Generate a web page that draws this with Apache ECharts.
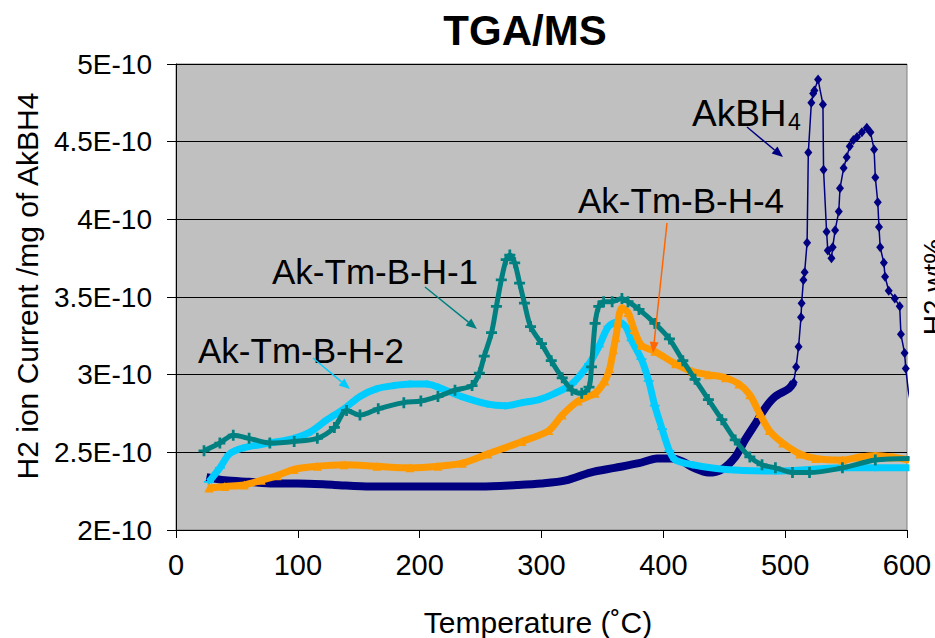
<!DOCTYPE html>
<html>
<head>
<meta charset="utf-8">
<title>TGA/MS</title>
<script src="https://cdn.jsdelivr.net/npm/echarts@6/dist/echarts.min.js"></script>
<style>
html, body { margin: 0; padding: 0; background: #fff; }
#main { width: 935px; height: 638px; }
</style>
</head>
<body>
<div id="main"></div>
<script>
// H2 ion current per mg (units of 1E-10) against temperature (°C)
var akbh4Base = [
  [25, 2.34], [40, 2.32], [60, 2.31], [80, 2.30], [100, 2.30], [130, 2.29],
  [160, 2.28], [200, 2.28], [250, 2.28], [280, 2.29], [300, 2.30], [320, 2.32],
  [340, 2.37], [360, 2.40], [380, 2.43], [395, 2.46], [407, 2.46], [416, 2.44],
  [425, 2.40], [437, 2.37], [448, 2.39], [459, 2.47], [467, 2.58], [476, 2.69],
  [484, 2.79], [492, 2.86], [503, 2.91], [507, 2.95]
];
var akbh4Peaks = [
  [507, 2.95], [509, 3.05], [511, 3.18], [513, 3.37], [513.5, 3.46], [515, 3.61],
  [516, 3.66], [518, 3.85], [519, 4.43], [521.5, 4.75], [523, 4.81], [524, 4.83],
  [527, 4.90], [531, 4.74], [531.5, 4.32], [534, 3.92], [535, 3.80], [538, 3.75],
  [539, 3.82], [541, 3.93], [544, 4.05], [545, 4.20], [548, 4.33], [550.5, 4.40],
  [553, 4.47], [556, 4.51], [559, 4.53], [563, 4.56], [567, 4.59], [570, 4.56],
  [573, 4.45], [574, 4.27], [576, 4.11], [577, 3.95], [578, 3.82], [581, 3.72],
  [582, 3.63], [585, 3.54], [590, 3.49], [594, 3.44], [595, 3.26], [598, 3.14],
  [599, 3.04], [601, 2.90], [606, 2.68]
];
var akTmBH1 = [
  [23, 2.51], [36, 2.56], [47, 2.61], [60, 2.59], [77, 2.56], [97, 2.57],
  [116, 2.59], [130, 2.66], [140, 2.77], [151, 2.74], [166, 2.78], [187, 2.82],
  [201, 2.83], [215, 2.86], [229, 2.90], [243, 2.93], [249, 3.01], [253, 3.12],
  [259, 3.27], [263, 3.44], [267, 3.61], [271, 3.74], [274, 3.77], [278, 3.72],
  [282, 3.59], [286, 3.46], [291, 3.31], [300, 3.20], [308, 3.09], [317, 2.98],
  [325, 2.90], [333, 2.88], [339, 2.92], [341, 3.05], [344, 3.33], [347, 3.44],
  [351, 3.47], [358, 3.47], [366, 3.49], [371, 3.47], [380, 3.42], [393, 3.33],
  [405, 3.23], [416, 3.09], [426, 2.97], [437, 2.84], [448, 2.71], [459, 2.58],
  [471, 2.47], [481, 2.42], [492, 2.40], [506, 2.37], [520, 2.37], [547, 2.40],
  [574, 2.45], [602, 2.46]
];
var akTmBH2 = [
  [27, 2.31], [36, 2.40], [44, 2.49], [56, 2.53], [77, 2.56], [97, 2.59],
  [110, 2.63], [124, 2.71], [138, 2.78], [151, 2.86], [165, 2.91], [179, 2.93],
  [192, 2.94], [206, 2.94], [215, 2.92], [234, 2.86], [256, 2.81], [270, 2.80],
  [284, 2.82], [298, 2.84], [311, 2.88], [325, 2.94], [339, 3.07], [347, 3.18],
  [355, 3.31], [363, 3.34], [369, 3.31], [374, 3.22], [382, 3.10], [388, 2.96],
  [393, 2.80], [399, 2.65], [405, 2.51], [410, 2.45], [424, 2.42], [451, 2.39],
  [492, 2.38], [547, 2.40], [574, 2.40], [602, 2.40]
];
var akTmBH4 = [
  [27, 2.27], [40, 2.28], [56, 2.29], [70, 2.32], [83, 2.35], [97, 2.39],
  [116, 2.41], [138, 2.42], [165, 2.41], [192, 2.40], [215, 2.41], [235, 2.43],
  [256, 2.49], [284, 2.57], [306, 2.64], [317, 2.74], [330, 2.83], [344, 2.88],
  [352, 2.96], [356, 3.04], [359, 3.16], [361, 3.24], [366, 3.43], [371, 3.40],
  [376, 3.29], [382, 3.19], [393, 3.15], [410, 3.07], [424, 3.02], [437, 3.00],
  [451, 2.98], [462, 2.94], [471, 2.87], [479, 2.75], [487, 2.64], [498, 2.56],
  [512, 2.49], [525, 2.46], [547, 2.45], [561, 2.47], [574, 2.48], [588, 2.47],
  [602, 2.45]
];

var FONT = '"Liberation Sans", Arial, sans-serif';
var plusPath = 'path://M3,0H5V3H8V5H5V8H3V5H0V3H3Z';

function arrow(x1, y1, x2, y2, color) {
  var a = Math.atan2(y2 - y1, x2 - x1), L = 11, W = 4.5;
  var bx = x2 - L * Math.cos(a), by = y2 - L * Math.sin(a);
  return [
    { type: 'line', z: 100, shape: { x1: x1, y1: y1, x2: bx, y2: by },
      style: { stroke: color, lineWidth: 1.5 } },
    { type: 'polygon', z: 100,
      shape: { points: [[x2, y2], [bx + W * Math.sin(a), by - W * Math.cos(a)], [bx - W * Math.sin(a), by + W * Math.cos(a)]] },
      style: { fill: color } }
  ];
}

function label(text, x, y, size, extra) {
  var s = { text: text, fill: '#000', fontSize: size, fontFamily: FONT, align: 'left', verticalAlign: 'middle' };
  for (var k in extra) s[k] = extra[k];
  return { type: 'text', z: 100, x: x, y: y, style: s };
}

var graphics = [
  label('TGA/MS', 525, 30, 42, { fontWeight: 'bold', align: 'center' }),
  { type: 'text', z: 100, x: 27, y: 286, rotation: Math.PI / 2,
    style: { text: 'H2 ion Current /mg of AkBH4', fill: '#000', fontSize: 30, fontFamily: FONT, align: 'center', verticalAlign: 'middle' } },
  { type: 'text', z: 100, x: 933, y: 287, rotation: Math.PI / 2,
    style: { text: 'H2 wt%', fill: '#000', fontSize: 28, fontFamily: FONT, align: 'center', verticalAlign: 'middle' } },
  label('Temperature (\u02daC)', 538, 622, 30, { align: 'center' }),
  label('AkBH', 692, 113, 37),
  label('4', 788, 122, 23),
  label('Ak-Tm-B-H-4', 578, 200, 35),
  label('Ak-Tm-B-H-1', 272, 271, 35),
  label('Ak-Tm-B-H-2', 198, 350, 35)
].concat(
  arrow(747, 127, 783, 157, '#000080'),
  arrow(667, 223, 653, 353, '#ff6600'),
  arrow(425, 287, 477, 329, '#008080'),
  arrow(313, 358, 350, 389, '#00ccff')
);

var chart = echarts.init(document.getElementById('main'), null, { renderer: 'svg' });
chart.setOption({
  animation: false,
  backgroundColor: '#fff',
  grid: {
    left: 176, top: 64, right: 28, bottom: 108,
    show: true, backgroundColor: '#c0c0c0', borderColor: '#808080', borderWidth: 1
  },
  xAxis: {
    type: 'value', min: 0, max: 600, interval: 100,
    axisLine: { show: true, lineStyle: { color: '#000', width: 1 } },
    axisTick: { show: true, inside: false, length: 8, lineStyle: { color: '#000' } },
    axisLabel: { color: '#000', fontSize: 29, fontFamily: FONT, margin: 20 },
    splitLine: { show: false }
  },
  yAxis: {
    type: 'value', min: 2, max: 5, interval: 0.5,
    axisLine: { show: true, lineStyle: { color: '#000', width: 1 } },
    axisTick: { show: true, inside: false, length: 9, lineStyle: { color: '#000' } },
    axisLabel: { color: '#000', fontSize: 28, fontFamily: FONT, margin: 24,
      formatter: function (v) { return v + 'E-10'; } },
    splitLine: { show: true, lineStyle: { color: '#000', width: 1 } }
  },
  graphic: graphics,
  series: [
    { name: 'AkBH4', type: 'line', data: akbh4Base, symbol: 'none', smooth: 0.3, z: 2,
      lineStyle: { color: '#000080', width: 8, join: 'round' } },
    { name: 'AkBH4 peaks', type: 'line', data: akbh4Peaks, symbol: 'diamond', symbolSize: [8, 10], z: 3,
      itemStyle: { color: '#000080' }, lineStyle: { color: '#000080', width: 1.5 } },
    { name: 'Ak-Tm-B-H-2', type: 'line', data: akTmBH2, symbol: plusPath, symbolSize: [10, 7], smooth: 0.3, z: 4,
      itemStyle: { color: '#00ccff' }, lineStyle: { color: '#00ccff', width: 7, join: 'round' } },
    { name: 'Ak-Tm-B-H-4', type: 'line', data: akTmBH4, symbol: 'triangle', symbolSize: 9, smooth: 0.3, z: 5,
      itemStyle: { color: '#ff9900' }, lineStyle: { color: '#ff9900', width: 7, join: 'round' } },
    { name: 'Ak-Tm-B-H-1', type: 'line', data: akTmBH1, symbol: plusPath, symbolSize: 11, smooth: 0.3, z: 6,
      itemStyle: { color: '#008080' }, lineStyle: { color: '#008080', width: 5, join: 'round' } }
  ]
});
</script>
</body>
</html>
